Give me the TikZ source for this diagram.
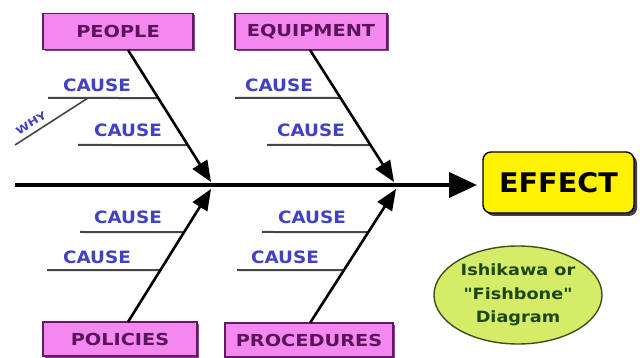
\documentclass[tikz,border=0pt]{standalone}
\usepackage{fontspec}
\setmainfont{DejaVu Sans}
\newfontfamily\boxfont{DejaVu Sans}[FakeStretch=1.17]
\newfontfamily\causefont{DejaVu Sans}[FakeStretch=1.08]
\newfontfamily\efffont{DejaVu Sans}[FakeStretch=1.06]
\newfontfamily\ellfont{DejaVu Sans}[FakeStretch=1.14]
\newfontfamily\whyfont{DejaVu Sans}[FakeStretch=1.2]
\usetikzlibrary{arrows.meta,shapes.geometric,shadows}
\definecolor{pinkfill}{RGB}{244,135,240}
\definecolor{pinkline}{RGB}{100,25,100}
\definecolor{pinktext}{RGB}{90,20,90}
\definecolor{causeblue}{RGB}{65,65,195}
\definecolor{causeline}{RGB}{70,70,70}
\definecolor{effyellow}{RGB}{255,242,0}
\definecolor{ellfill}{RGB}{212,236,104}
\definecolor{ellline}{RGB}{60,80,30}
\definecolor{elltext}{RGB}{30,70,20}
\tikzset{
  catbox/.style={draw=pinkline, fill=pinkfill, line width=1.3pt, minimum height=36pt, inner sep=0pt,
    font=\boxfont\bfseries\fontsize{16.5}{16.5}\selectfont, text=pinktext,
    drop shadow={shadow xshift=1.5pt, shadow yshift=-1.5pt, fill=pinkline, opacity=0.8}},
  causetext/.style={font=\causefont\bfseries\fontsize{17}{17}\selectfont, text=causeblue, inner sep=0pt},
  causeln/.style={draw=causeline, line width=2pt},
  bone/.style={draw=black, line width=2.6pt, -{Triangle[length=21pt,width=17pt]}},
}
\begin{document}
\begin{tikzpicture}[x=1pt,y=-1pt]
\useasboundingbox[fill=white] (0,0) rectangle (640,358);

% category boxes
\node[catbox, minimum width=150pt] (people) at (118,31.5) {PEOPLE};
\node[catbox, minimum width=152pt] (equip) at (311,31.5) {EQUIPMENT};
\node[catbox, minimum width=154pt, minimum height=34pt] (policies) at (120,339) {POLICIES};
\node[catbox, minimum width=168pt, minimum height=34pt] (proc) at (309,340) {PROCEDURES};

% effect
\node[draw=black, fill=effyellow, line width=1.4pt, rounded corners=8pt, minimum width=151pt, minimum height=61pt,
  font=\efffont\bfseries\fontsize{27}{27}\selectfont, inner sep=0pt,
  drop shadow={shadow xshift=3pt, shadow yshift=-3pt, fill=black!75, opacity=1}] (effect) at (558.5,182.5) {EFFECT};

% ellipse
\node[ellipse, draw=ellline, fill=ellfill, line width=1.4pt, minimum width=168pt, minimum height=98pt,
  font=\ellfont\bfseries\fontsize{15.5}{23.5}\selectfont, text=elltext, align=center, inner sep=0pt] (ell) at (518,295)
  {Ishikawa or\\"Fishbone"\\Diagram};

% spine
\coordinate (tail) at (15,185);
\coordinate (head) at (477,185);
\draw[line width=4pt, -{Triangle[length=28pt,width=25pt]}] (tail) -- (head);

% bone coordinates
\coordinate (pS) at (128,50);   \coordinate (pT) at (211,182);
\coordinate (eS) at (310,50);   \coordinate (eT) at (394,182);
\coordinate (lS) at (128,322);  \coordinate (lT) at (211,189);
\coordinate (rS) at (310,323);  \coordinate (rT) at (396,189);

% cause lines
\coordinate (c1) at (48,98);   \coordinate (c2) at (78,145);
\coordinate (c3) at (235,98);  \coordinate (c4) at (267,145);
\coordinate (c5) at (80,232);  \coordinate (c6) at (47,270);
\coordinate (c7) at (262,232); \coordinate (c8) at (237,270);
\coordinate (c1b) at (300,98);  \coordinate (c2b) at (300,145);
\coordinate (c5b) at (300,232); \coordinate (c6b) at (300,270);
\coordinate (c3b) at (500,98);  \coordinate (c4b) at (500,145);
\coordinate (c7b) at (500,232); \coordinate (c8b) at (500,270);
\draw[causeln] (c1) -- (intersection of c1--c1b and pS--pT);
\draw[causeln] (c2) -- (intersection of c2--c2b and pS--pT);
\draw[causeln] (c3) -- (intersection of c3--c3b and eS--eT);
\draw[causeln] (c4) -- (intersection of c4--c4b and eS--eT);
\draw[causeln] (c5) -- (intersection of c5--c5b and lS--lT);
\draw[causeln] (c6) -- (intersection of c6--c6b and lS--lT);
\draw[causeln] (c7) -- (intersection of c7--c7b and rS--rT);
\draw[causeln] (c8) -- (intersection of c8--c8b and rS--rT);

% bones
\draw[bone] (pS) -- (pT);
\draw[bone] (eS) -- (eT);
\draw[bone] (lS) -- (lT);
\draw[bone] (rS) -- (rT);

% cause labels
\node[causetext] (t1) at (97,85) {CAUSE};
\node[causetext] (t2) at (128,130) {CAUSE};
\node[causetext] (t3) at (279,85) {CAUSE};
\node[causetext] (t4) at (311,130) {CAUSE};
\node[causetext] (t5) at (128,217) {CAUSE};
\node[causetext] (t6) at (97,257) {CAUSE};
\node[causetext] (t7) at (312,217) {CAUSE};
\node[causetext] (t8) at (285,257) {CAUSE};

% why
\coordinate (w0) at (15,145);
\coordinate (w1) at (88,98);
\draw[draw=causeline, line width=1.6pt] (w0) -- (w1);
\node[font=\whyfont\bfseries\fontsize{10.5}{10.5}\selectfont, text=causeblue, rotate=32, inner sep=0pt] (why) at (31,123) {WHY};
\end{tikzpicture}
\end{document}
